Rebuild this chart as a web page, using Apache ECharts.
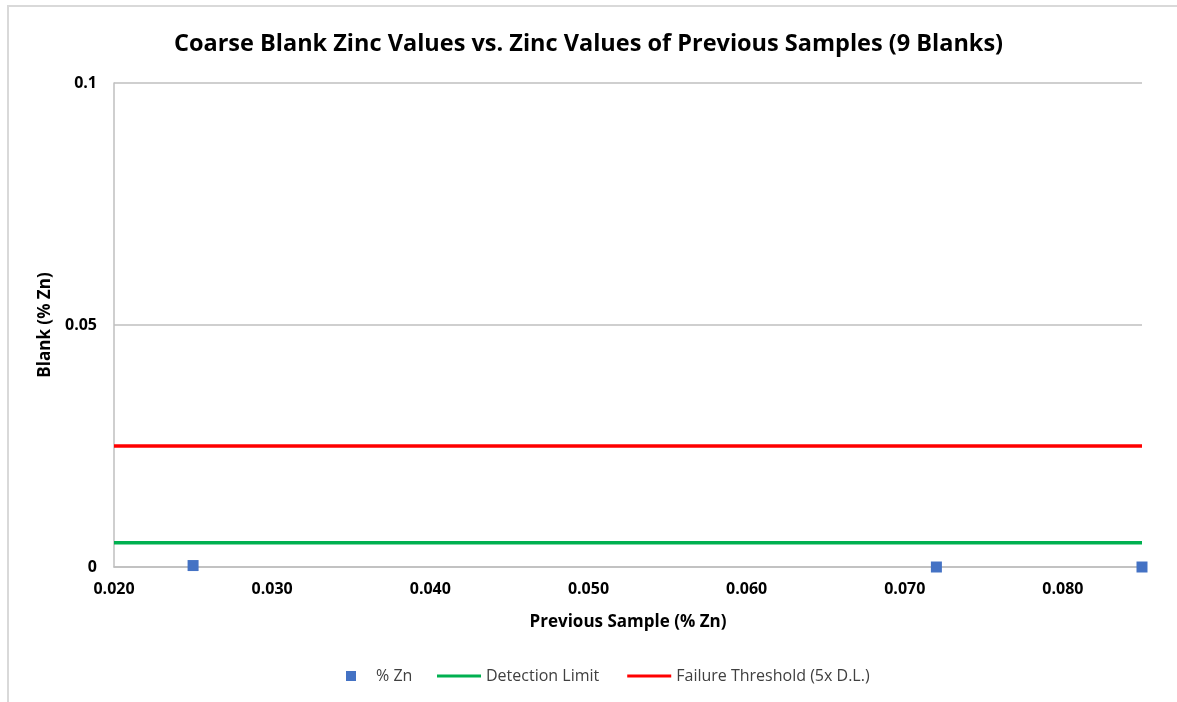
<!DOCTYPE html>
<html>
<head>
<meta charset="utf-8">
<script src="https://cdn.jsdelivr.net/npm/echarts@6/dist/echarts.min.js"></script>
<style>
  html, body { margin: 0; padding: 0; background: #fff; }
  #chart { width: 1177px; height: 702px; }
</style>
</head>
<body>
<div id="chart"></div>
<script>
// blank samples: [previous sample % Zn, blank % Zn]
const blankPoints = [
  [0.025, 0.0003],
  [0.072, 0.0],
  [0.085, 0.0],
];
const xRange = [0.02, 0.085];
const detectionLimit = 0.005;
const failureThreshold = 0.025; // 5x D.L.

const font = '"Open Sans", "Noto Sans", sans-serif';
// thin bar in the middle of a 44x12 box, for line legend keys
const lineIcon = 'path://M0 0 L0.01 0 Z M0 4.5 H44 V7.5 H0 Z M44 12 L43.99 12 Z';

const chart = echarts.init(document.getElementById('chart'));

chart.setOption({
  backgroundColor: '#fff',
  animation: false,
  title: {
    text: 'Coarse Blank Zinc Values vs. Zinc Values of Previous Samples (9 Blanks)',
    left: 'center',
    top: 27,
    textStyle: { fontFamily: font, fontSize: 23.5, fontWeight: 'bold', color: '#000' },
  },
  grid: { left: 114, right: 35, top: 83, bottom: 135 },
  legend: [
    {
      left: 341,
      bottom: 13,
      itemWidth: 10,
      itemHeight: 10,
      textStyle: { fontFamily: font, fontSize: 16, color: '#404040', padding: [0, 0, 0, 15] },
      data: [{ name: '% Zn', icon: 'rect' }],
    },
    {
      left: 432,
      bottom: 13,
      itemGap: 28,
      itemWidth: 44,
      itemHeight: 12,
      symbolKeepAspect: false,
      textStyle: { fontFamily: font, fontSize: 16, color: '#404040' },
      data: [
        { name: 'Detection Limit', icon: lineIcon },
        { name: 'Failure Threshold (5x D.L.)', icon: lineIcon },
      ],
    },
  ],
  xAxis: {
    type: 'value',
    min: xRange[0],
    max: xRange[1],
    interval: 0.01,
    name: 'Previous Sample (% Zn)',
    nameLocation: 'middle',
    nameGap: 47,
    nameTextStyle: { fontFamily: font, fontSize: 17, fontWeight: 'bold', color: '#000' },
    axisLine: { lineStyle: { color: '#bfbfbf', width: 1.5 } },
    axisTick: { show: false },
    splitLine: { show: false },
    axisLabel: {
      fontFamily: font, fontSize: 16, fontWeight: 'bold', color: '#000', margin: 14,
      formatter: (v) => v.toFixed(3),
      showMaxLabel: false,
    },
  },
  yAxis: {
    type: 'value',
    min: 0,
    max: 0.1,
    interval: 0.05,
    name: 'Blank (% Zn)',
    nameLocation: 'middle',
    nameGap: 56,
    nameTextStyle: { fontFamily: font, fontSize: 17, fontWeight: 'bold', color: '#000' },
    axisLine: { show: true, lineStyle: { color: '#bfbfbf', width: 1.5 } },
    axisTick: { show: false },
    splitLine: { lineStyle: { color: '#bfbfbf', width: 1.5 } },
    axisLabel: {
      fontFamily: font, fontSize: 16, fontWeight: 'bold', color: '#000', margin: 17,
      formatter: (v) => String(v),
    },
  },
  graphic: [
    {
      type: 'polyline',
      shape: { points: [[8, 702], [8, 6], [1177, 6]] },
      style: { stroke: '#d9d9d9', lineWidth: 2, fill: null },
      silent: true,
    },
  ],
  series: [
    {
      name: 'Detection Limit',
      type: 'line',
      data: xRange.map((x) => [x, detectionLimit]),
      symbol: 'none',
      lineStyle: { color: '#00b050', width: 3.5 },
      itemStyle: { color: '#00b050' },
      z: 2,
    },
    {
      name: 'Failure Threshold (5x D.L.)',
      type: 'line',
      data: xRange.map((x) => [x, failureThreshold]),
      symbol: 'none',
      lineStyle: { color: '#ff0000', width: 3.5 },
      itemStyle: { color: '#ff0000' },
      z: 2,
    },
    {
      name: '% Zn',
      type: 'scatter',
      data: blankPoints,
      symbol: 'rect',
      symbolSize: 11,
      itemStyle: { color: '#4472c4', opacity: 1 },
      z: 3,
    },
  ],
});
</script>
</body>
</html>
